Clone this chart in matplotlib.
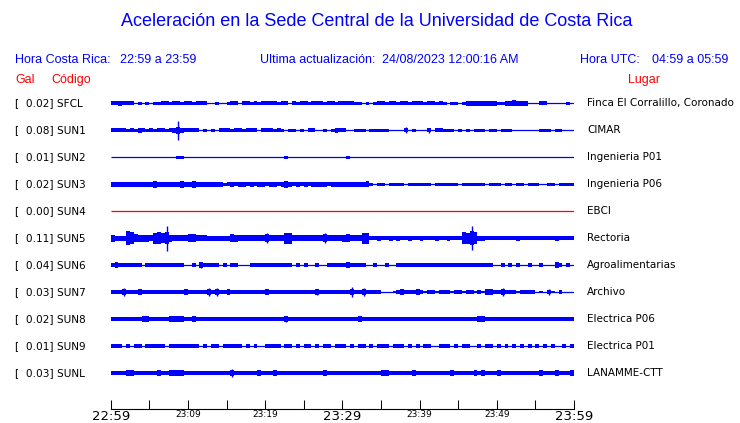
import numpy as np
import matplotlib
matplotlib.use("Agg")
import matplotlib.pyplot as plt
from matplotlib.transforms import blended_transform_factory

# ---------------- data ----------------
title = "Aceleración en la Sede Central de la Universidad de Costa Rica"
codes = ["SFCL", "SUN1", "SUN2", "SUN3", "SUN4", "SUN5", "SUN6", "SUN7", "SUN8", "SUN9", "SUNL"]
gal = [0.02, 0.08, 0.01, 0.02, 0.00, 0.11, 0.04, 0.03, 0.02, 0.01, 0.03]
places = ["Finca El Corralillo, Coronado", "CIMAR", "Ingenieria P01", "Ingenieria P06", "EBCI",
          "Rectoria", "Agroalimentarias", "Archivo", "Electrica P06", "Electrica P01", "LANAMME-CTT"]
tick_labels = ["22:59", "", "23:09", "", "23:19", "", "23:29", "", "23:39", "", "23:49", "", "23:59"]
big_ticks = ["22:59", "23:29", "23:59"]

# envelope amplitudes (half-height, relative counts), one value per 30 s over 60 min
SFCL = [4,4,5,4,4,4,1,3,1,2,1,3,2,4,4,3,4,4,2,4,4,3,4,4,4,1,1,2,1,1,2,4,4,1,4,4,3,4,2,4,
        4,4,4,3,4,4,1,4,3,4,4,2,4,4,4,3,4,4,2,4,4,4,4,2,3,1,3,1,3,4,4,2,4,4,3,4,4,2,4,4,
        4,3,4,4,3,4,3,1,3,2,1,3,5,5,5,5,5,5,5,5,2,2,5,5,7,5,5,5,1,1,1,4,4,1,1,1,1,1,2,1]
SUN1 = [4,4,4,4,3,4,2,5,4,3,4,2,4,4,3,4,5,27,5,4,4,4,4,1,2,1,2,1,4,4,4,3,4,4,3,4,4,4,1,4,
        4,4,2,4,3,1,3,2,1,3,1,4,4,1,1,2,1,3,6,4,4,1,1,3,2,3,1,3,3,3,2,3,1,1,1,1,7,1,2,1,
        1,1,6,1,4,4,3,2,3,1,3,1,3,1,3,2,3,1,3,3,1,3,2,3,1,1,1,1,1,1,1,3,3,3,1,3,3,1,1,1]
SUN2 = [0,0,0,0,0,0,0,0,0,0,0,0,0,0,0,0,0,2,3,0,0,0,0,0,0,0,0,0,0,0,0,0,0,0,0,0,0,0,0,0,
        0,0,0,0,0,2,0,0,0,0,0,0,0,0,0,0,0,0,0,0,0,2,0,0,0,0,0,0,0,0,0,0,0,0,0,0,0,0,0,0,
        0,0,0,0,0,0,0,0,0,0,0,0,0,0,0,0,0,0,0,0,0,0,0,0,0,0,0,0,0,0,0,0,0,0,0,0,0,0,0,0]
SUN3 = [5,5,5,5,5,5,5,5,5,5,5,8,5,5,5,5,5,5,8,5,5,8,5,5,5,5,5,5,5,2,4,5,4,5,5,4,5,4,5,5,
        4,5,5,4,5,8,5,4,5,4,5,4,5,5,5,5,4,5,5,5,5,5,5,6,5,5,7,3,1,3,3,1,2,3,3,3,1,3,3,2,
        3,3,3,1,3,3,3,3,3,3,1,3,3,3,2,3,3,1,3,3,3,1,3,3,1,3,2,1,3,3,3,1,1,3,3,1,3,2,3,3]
SUN4 = [0,0,0,0,0,0,0,0,0,0,0,0,0,0,0,0,0,0,0,0,0,0,0,0,0,0,0,0,0,0,0,0,0,0,0,0,0,0,0,0,
        0,0,0,0,0,0,0,0,0,0,0,0,0,0,0,0,0,0,0,0,0,0,0,0,0,0,0,0,0,0,0,0,0,0,0,0,0,0,0,0,
        0,0,0,0,0,0,0,0,0,0,0,0,0,0,0,0,0,0,0,0,0,0,0,0,0,0,0,0,0,0,0,0,0,0,0,0,0,0,0,0]
SUN5 = [8,5,5,5,18,15,10,8,8,8,7,14,15,12,35,8,7,7,7,7,10,10,6,6,6,5,5,5,5,5,5,10,8,6,6,7,6,6,6,6,
        12,6,6,6,6,14,14,6,6,7,6,6,6,6,6,13,7,7,7,7,8,10,7,7,7,14,14,4,4,5,4,4,5,4,5,4,4,5,4,4,
        5,4,4,4,5,4,4,5,4,4,4,15,14,33,15,5,5,4,4,4,4,4,4,4,4,5,4,4,4,4,4,4,4,4,4,5,4,4,4,4]
SUN6 = [5,8,5,4,3,4,3,4,1,4,3,4,4,3,4,5,4,4,3,1,1,3,1,7,3,3,3,3,1,3,1,3,3,1,1,1,3,4,3,4,
        3,4,3,3,4,5,4,1,3,1,3,1,1,3,1,1,3,3,3,3,4,7,4,4,3,4,1,1,3,1,1,3,1,1,3,4,3,4,3,3,
        4,5,3,4,3,4,3,4,3,4,4,3,4,3,4,3,3,4,3,1,1,3,1,3,1,3,1,1,3,1,1,3,1,1,1,6,5,1,3,1]
SUN7 = [4,4,4,11,4,4,4,6,4,4,4,4,3,4,4,4,4,4,3,7,4,4,4,3,4,9,5,10,4,4,7,4,4,4,4,3,4,4,4,4,
        7,4,4,4,4,3,4,4,4,4,4,4,4,8,4,4,4,3,4,5,5,5,12,5,5,10,5,5,5,5,1,1,1,2,5,7,5,5,5,8,
        5,2,5,5,2,5,5,5,2,5,5,2,5,5,2,5,2,8,8,4,5,9,5,4,5,2,5,5,5,5,1,2,1,6,2,1,3,1,1,1]
SUN8 = [4,5,4,3,4,4,5,4,6,6,4,4,3,4,5,8,6,6,6,5,4,6,5,4,5,4,4,4,4,4,4,5,5,4,4,5,4,4,4,5,
        4,4,4,4,4,8,4,4,4,4,4,4,4,4,5,4,4,4,4,5,4,5,5,5,6,5,4,4,4,4,4,4,4,4,4,4,4,4,4,4,
        4,4,4,4,4,4,4,4,4,4,4,4,5,4,4,6,6,4,4,4,5,5,5,5,5,5,5,5,5,5,5,5,5,5,5,5,5,5,5,5]
SUN9 = [4,4,4,1,3,1,3,3,1,3,3,3,3,3,1,3,3,3,3,3,3,3,3,1,3,1,3,3,1,3,3,3,3,3,1,3,1,3,1,1,
        3,3,3,3,1,3,3,1,3,1,3,3,1,3,1,3,3,1,3,3,3,1,3,1,3,3,1,3,1,3,3,3,1,3,3,3,1,3,1,3,
        1,3,3,1,1,3,3,3,1,3,1,3,3,1,1,3,1,3,3,1,3,1,3,1,3,1,3,1,3,1,3,1,3,1,3,1,1,3,1,3]
SUNL = [5,4,4,4,6,6,4,4,5,4,4,4,7,4,5,8,6,6,6,4,5,4,5,4,4,5,4,4,4,5,4,10,5,4,4,4,4,5,6,4,
        4,4,6,4,4,4,5,4,4,5,4,4,4,4,4,6,4,4,5,4,4,4,4,5,4,4,4,4,4,4,6,6,5,4,4,4,5,4,6,4,
        4,4,5,5,5,5,4,4,6,4,4,4,4,4,6,4,6,4,4,4,6,4,4,4,5,4,4,4,4,4,4,6,4,4,4,6,4,4,4,6]
traces = [SFCL, SUN1, SUN2, SUN3, SUN4, SUN5, SUN6, SUN7, SUN8, SUN9, SUNL]
trace_colors = ["#0000ff"] * 4 + ["#ff0000"] + ["#0000ff"] * 6

# ---------------- layout ----------------
W, H = 740, 423
BLUE, RED = "#0000ff", "#ff0000"
HDR = "Liberation Sans"
LBL = "DejaVu Sans"

fig = plt.figure(figsize=(W / 100, H / 100), dpi=100)
x0, x1 = 110.7, 574.0
y_top, y_bot = 88.0, 409.0
row0, row_dy = 103.3, 26.97
ax = fig.add_axes([x0 / W, 1 - y_bot / H, (x1 - x0) / W, (y_bot - y_top) / H])
ax.set_xlim(0, 60)
ax.set_ylim((y_bot - row0) / row_dy, (y_top - row0) / row_dy)

def px_half(a):
    # envelope counts -> half height in pixels (counts <= 1 are just the trace line)
    return np.where(a > 1, 0.7 + a / 3.0, 0.0)

for i, (tr, col) in enumerate(zip(traces, trace_colors)):
    a = np.asarray(tr, float)
    n = len(a)
    edges = np.linspace(0, 60, n + 1)
    centers = 0.5 * (edges[:-1] + edges[1:])
    nb = np.maximum(np.r_[0, a[:-1]], np.r_[a[1:], 0])
    af = np.minimum(a, nb + 3)
    hf = px_half(af) / row_dy
    h = px_half(a) / row_dy
    y = i
    ax.hlines(y, 0, 60, color=col, lw=0.9)
    if a.max() > 0:
        ax.stairs(y + hf, edges, baseline=y - hf, fill=True, color=col, lw=0)
        sp = a > af
        if sp.any():
            ax.vlines(centers[sp], y - h[sp], y + h[sp], color=col, lw=1.0)

ax.set_xticks(np.arange(0, 61, 5))
ax.set_xticklabels(tick_labels)
for lbl in ax.get_xticklabels():
    lbl.set_fontfamily(LBL)
    lbl.set_fontsize(9.5 if lbl.get_text() in big_ticks else 6.5)
ax.tick_params(axis="x", direction="in", length=6.5, width=0.75, pad=0.8, colors="black")
ax.set_yticks([])
for s in ["top", "left", "right"]:
    ax.spines[s].set_visible(False)
ax.spines["bottom"].set_linewidth(0.8)
ax.patch.set_alpha(0)

tr_l = blended_transform_factory(fig.transFigure, ax.transData)
for i, (c, g, p) in enumerate(zip(codes, gal, places)):
    ax.text(15 / W, i, f"[{g:6.2f}] {c}", transform=tr_l, ha="left", va="center",
            fontsize=7.6, family=LBL, color="black", clip_on=False)
    ax.text(587 / W, i, p, transform=tr_l, ha="left", va="center",
            fontsize=7.5, family=LBL, color="black", clip_on=False)

def ftext(x, y, s, color=BLUE, size=9, ha="left"):
    fig.text(x / W, 1 - y / H, s, ha=ha, va="center", fontsize=size, family=HDR, color=color)

ftext(376.5, 21, title, size=13, ha="center")
ftext(15, 60, "Hora Costa Rica:")
ftext(120, 60, "22:59 a 23:59")
ftext(260, 60, "Ultima actualización:")
ftext(382, 60, "24/08/2023 12:00:16 AM")
ftext(580, 60, "Hora UTC:")
ftext(652, 60, "04:59 a 05:59")
ftext(15, 80, "Gal", color=RED)
ftext(51, 80, "Código", color=RED)
ftext(628, 80, "Lugar", color=RED)

fig.savefig("out.png", dpi=100)
